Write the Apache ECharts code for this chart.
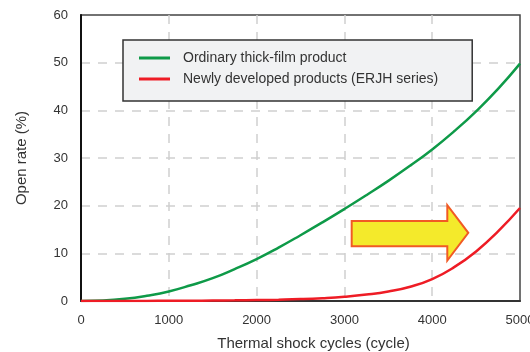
<!DOCTYPE html>
<html><head><meta charset="utf-8">
<script src="https://cdn.jsdelivr.net/npm/echarts@6/dist/echarts.min.js"></script>
<style>html,body{margin:0;padding:0;background:#fff}#c{width:530px;height:352px}</style>
</head><body><div id="c"></div>
<script>
const cycles = [0, 250, 500, 750, 1000, 1250, 1500, 1750, 2000, 2250, 2500, 2750, 3000, 3250, 3500, 3750, 4000, 4250, 4500, 4750, 5000];
const ordinary = [0, 0.1, 0.45, 1.1, 2.0, 3.3, 4.8, 6.7, 8.8, 11.2, 13.8, 16.5, 19.3, 22.2, 25.2, 28.4, 31.8, 35.6, 39.8, 44.5, 49.8];
const newly = [0, 0, 0, 0.02, 0.04, 0.06, 0.1, 0.14, 0.2, 0.28, 0.4, 0.6, 0.9, 1.35, 2.0, 3.0, 4.6, 7.1, 10.4, 14.6, 19.5];
const seriesNames = ['Ordinary thick-film product', 'Newly developed products (ERJH series)'];
const xTicks = [0, 1000, 2000, 3000, 4000, 5000];
const yTicks = [0, 10, 20, 30, 40, 50, 60];
// arrow annotation in data units: [cycle, %]
const arrowShape = [[3083, 16.8], [4172, 16.8], [4172, 20.1], [4411, 14.3], [4172, 8.5], [4172, 11.5], [3083, 11.5]];

const font = '"Liberation Sans", Arial, sans-serif';
const chart = echarts.init(document.getElementById('c'), null, {renderer: 'canvas'});
const pair = (xs, ys) => xs.map((x, i) => [x, ys[i]]);
const split = {show: true, showMinLine: false, showMaxLine: false, lineStyle: {color: '#d0d0d0', width: 1.5, type: [9, 8]}};
chart.setOption({
  animation: false,
  grid: {left: 81, top: 15, right: 10, bottom: 51, containLabel: false, outerBoundsMode: 'none',
         show: true, borderColor: '#444', borderWidth: 1.5, backgroundColor: 'transparent'},
  legend: {
    orient: 'vertical', left: 123, top: 40,
    data: seriesNames,
    icon: 'rect', itemWidth: 31, itemHeight: 3, itemGap: 5,
    padding: [10, 34, 14, 16],
    backgroundColor: '#f1f2f3', borderColor: '#333', borderWidth: 1.5,
    textStyle: {fontFamily: font, fontSize: 14, color: '#333', lineHeight: 16, padding: [0, 0, 0, 8]}
  },
  xAxis: {
    type: 'value', min: xTicks[0], max: xTicks[xTicks.length - 1], interval: 1000,
    name: 'Thermal shock cycles (cycle)', nameLocation: 'middle', nameGap: 35,
    nameTextStyle: {fontFamily: font, fontSize: 15, color: '#333', padding: [0, 0, 0, 26]},
    axisLine: {lineStyle: {color: '#333', width: 2}},
    axisTick: {show: false},
    axisLabel: {fontFamily: font, fontSize: 13, color: '#333', margin: 13, formatter: v => String(v)},
    splitLine: split
  },
  yAxis: {
    type: 'value', min: yTicks[0], max: yTicks[yTicks.length - 1], interval: 10,
    name: 'Open rate (%)', nameLocation: 'middle', nameGap: 52, nameRotate: 90,
    nameTextStyle: {fontFamily: font, fontSize: 15, color: '#333'},
    axisLine: {show: true, lineStyle: {color: '#111', width: 2}},
    axisTick: {show: false},
    axisLabel: {fontFamily: font, fontSize: 13, color: '#333', margin: 13, formatter: v => String(v)},
    splitLine: split
  },
  series: [
    {name: seriesNames[0], type: 'line', data: pair(cycles, ordinary), smooth: 0.5, showSymbol: false,
     lineStyle: {color: '#0e9a48', width: 2.5}, itemStyle: {color: '#0e9a48'}, z: 3},
    {name: seriesNames[1], type: 'line', data: pair(cycles, newly), smooth: 0.5, showSymbol: false,
     lineStyle: {color: '#ee1c25', width: 2.5}, itemStyle: {color: '#ee1c25'}, z: 4}
  ]
});
const pts = arrowShape.map(p => chart.convertToPixel({gridIndex: 0}, p));
chart.setOption({
  graphic: [{type: 'polygon', shape: {points: pts}, style: {fill: '#f4ea2b', stroke: '#f15a24', lineWidth: 2}, z: 10}]
});
</script></body></html>
